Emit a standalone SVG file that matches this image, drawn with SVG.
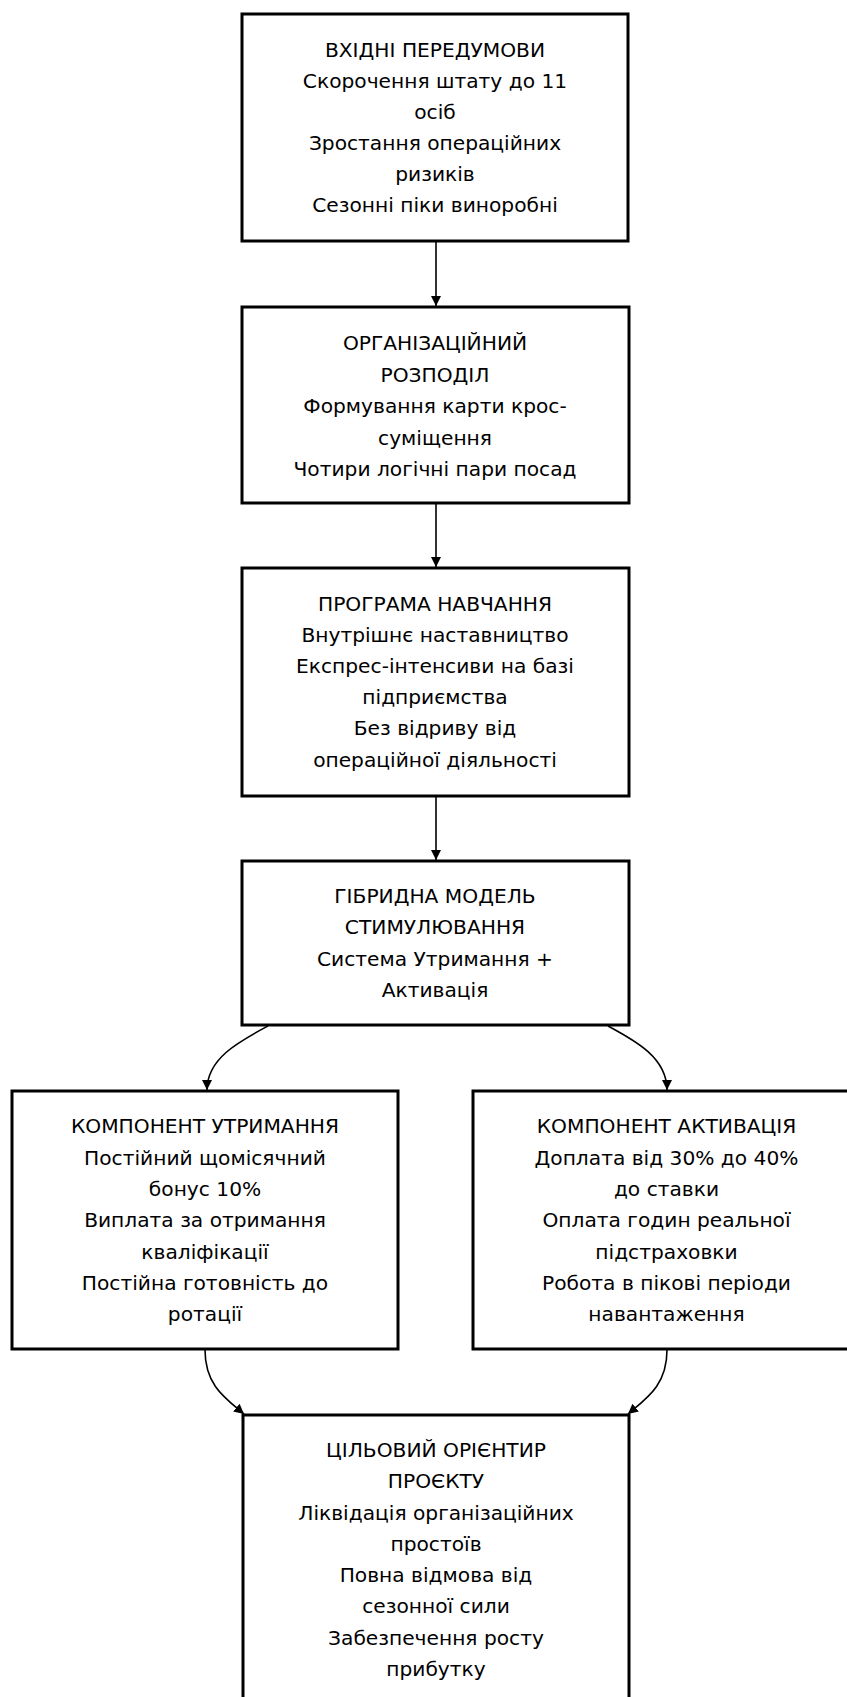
<svg xmlns="http://www.w3.org/2000/svg" width="847" height="1697" viewBox="0 0 847 1697">
<style>
.box{fill:#fff;stroke:#000;stroke-width:3}
.t{font-family:"DejaVu Sans",sans-serif;font-size:20.2px;fill:#000;text-anchor:middle}
.c{fill:none;stroke:#000;stroke-width:1.6}
</style>
<defs>
<marker id="ah" viewBox="0 0 10 10" refX="10" refY="5" markerUnits="userSpaceOnUse" markerWidth="10" markerHeight="11" orient="auto">
<path d="M0,0 L10,5 L0,10 z" fill="#000"/>
</marker>
</defs>
<rect width="847" height="1697" fill="#fff"/>
<g id="connectors">
<path class="c" d="M436,241 L436,306" marker-end="url(#ah)"/>
<path class="c" d="M436,503 L436,567" marker-end="url(#ah)"/>
<path class="c" d="M436,796 L436,860" marker-end="url(#ah)"/>
<path class="c" d="M268,1026 C240,1041 207,1058 207,1090" marker-end="url(#ah)"/>
<path class="c" d="M608,1026 C636,1041 667,1058 667,1090" marker-end="url(#ah)"/>
<path class="c" d="M205,1350 C205,1385 225,1398 244,1414" marker-end="url(#ah)"/>
<path class="c" d="M667,1350 C667,1385 647,1398 628,1414" marker-end="url(#ah)"/>
</g>
<g id="n1">
<rect class="box" x="242" y="14" width="386" height="227"/>
<text class="t" x="435" y="57">ВХІДНІ ПЕРЕДУМОВИ</text>
<text class="t" x="435" y="88">Скорочення штату до 11</text>
<text class="t" x="435" y="119">осіб</text>
<text class="t" x="435" y="150">Зростання операційних</text>
<text class="t" x="435" y="181">ризиків</text>
<text class="t" x="435" y="212">Сезонні піки виноробні</text>
</g>
<g id="n2">
<rect class="box" x="242" y="307" width="387" height="196"/>
<text class="t" x="435" y="350">ОРГАНІЗАЦІЙНИЙ</text>
<text class="t" x="435" y="381.5">РОЗПОДІЛ</text>
<text class="t" x="435" y="413">Формування карти крос-</text>
<text class="t" x="435" y="444.5">суміщення</text>
<text class="t" x="435" y="476">Чотири логічні пари посад</text>
</g>
<g id="n3">
<rect class="box" x="242" y="568" width="387" height="228"/>
<text class="t" x="435" y="611">ПРОГРАМА НАВЧАННЯ</text>
<text class="t" x="435" y="642">Внутрішнє наставництво</text>
<text class="t" x="435" y="673">Експрес-інтенсиви на базі</text>
<text class="t" x="435" y="704">підприємства</text>
<text class="t" x="435" y="735">Без відриву від</text>
<text class="t" x="435" y="766.5">операційної діяльності</text>
</g>
<g id="n4">
<rect class="box" x="242" y="861" width="387" height="164"/>
<text class="t" x="435" y="903">ГІБРИДНА МОДЕЛЬ</text>
<text class="t" x="435" y="934">СТИМУЛЮВАННЯ</text>
<text class="t" x="435" y="965.5">Система Утримання +</text>
<text class="t" x="435" y="996.5">Активація</text>
</g>
<g id="n5">
<rect class="box" x="12" y="1091" width="386" height="258"/>
<text class="t" x="205" y="1133">КОМПОНЕНТ УТРИМАННЯ</text>
<text class="t" x="205" y="1164.5">Постійний щомісячний</text>
<text class="t" x="205" y="1196">бонус 10%</text>
<text class="t" x="205" y="1227">Виплата за отримання</text>
<text class="t" x="205" y="1258.5">кваліфікації</text>
<text class="t" x="205" y="1290">Постійна готовність до</text>
<text class="t" x="205" y="1321">ротації</text>
</g>
<g id="n6">
<rect class="box" x="473" y="1091" width="387" height="258"/>
<text class="t" x="666.5" y="1133">КОМПОНЕНТ АКТИВАЦІЯ</text>
<text class="t" x="666.5" y="1164.5">Доплата від 30% до 40%</text>
<text class="t" x="666.5" y="1196">до ставки</text>
<text class="t" x="666.5" y="1227">Оплата годин реальної</text>
<text class="t" x="666.5" y="1258.5">підстраховки</text>
<text class="t" x="666.5" y="1290">Робота в пікові періоди</text>
<text class="t" x="666.5" y="1321">навантаження</text>
</g>
<g id="n7">
<rect class="box" x="243" y="1415" width="386" height="310"/>
<text class="t" x="436" y="1456.5">ЦІЛЬОВИЙ ОРІЄНТИР</text>
<text class="t" x="436" y="1488">ПРОЄКТУ</text>
<text class="t" x="436" y="1519.5">Ліквідація організаційних</text>
<text class="t" x="436" y="1550.5">простоїв</text>
<text class="t" x="436" y="1582">Повна відмова від</text>
<text class="t" x="436" y="1613">сезонної сили</text>
<text class="t" x="436" y="1644.5">Забезпечення росту</text>
<text class="t" x="436" y="1675.5">прибутку</text>
</g>
</svg>
